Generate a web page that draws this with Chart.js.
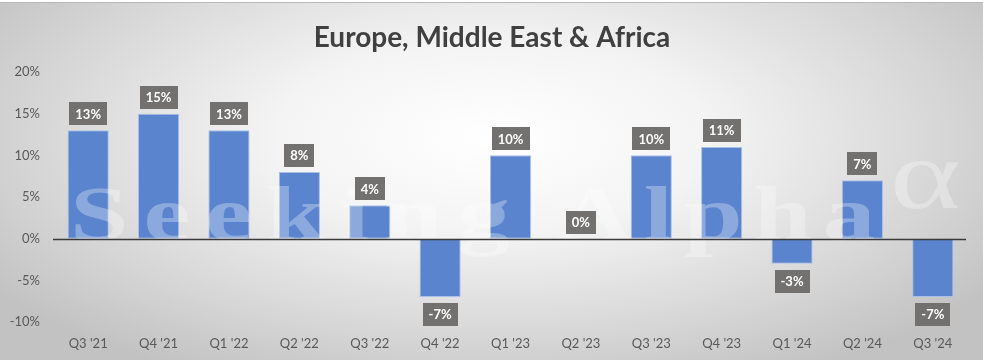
<!DOCTYPE html>
<html>
<head>
<meta charset="utf-8">
<script src="https://cdn.jsdelivr.net/npm/chart.js@4"></script>
<style>
  html, body { margin: 0; padding: 0; width: 983px; height: 360px; overflow: hidden; background: #fff; }
  #wrap { position: absolute; left: 0; top: 0; width: 983px; height: 360px;
    background: radial-gradient(ellipse 62% 75% at 50% 38%, #ffffff 0%, #f4f4f4 35%, #d6d6d6 75%, #c2c2c2 100%); }
  #strip { position: absolute; left: 0; top: 0; width: 983px; height: 2px; background: #fff; border-bottom: 1px solid #b8b8b8; z-index: 2; }
  canvas { position: absolute; left: 0; top: 0; }
</style>
</head>
<body>
<div id="wrap"><canvas id="c" width="983" height="360"></canvas></div>
<div id="strip"></div>
<script>
const TITLE = "Europe, Middle East & Africa";
const categories = ["Q3 '21", "Q4 '21", "Q1 '22", "Q2 '22", "Q3 '22", "Q4 '22", "Q1 '23", "Q2 '23", "Q3 '23", "Q4 '23", "Q1 '24", "Q2 '24", "Q3 '24"];
const growth = [13, 15, 13, 8, 4, -7, 10, 0, 10, 11, -3, 7, -7];
const yTicks = [-10, -5, 0, 5, 10, 15, 20];

const FONT = "Lato, 'Open Sans', sans-serif";

const titlePlugin = {
  id: 'titleDraw',
  afterDraw(chart) {
    const ctx = chart.ctx;
    ctx.save();
    ctx.font = "bold 28px " + FONT;
    ctx.fillStyle = "#404040";
    ctx.textAlign = "center";
    ctx.textBaseline = "middle";
    ctx.fillText(TITLE, chart.width / 2 + 0.5, 38);
    ctx.restore();
  }
};

const watermarkPlugin = {
  id: 'watermark',
  afterDatasetsDraw(chart) {
    const ctx = chart.ctx;
    ctx.save();
    ctx.fillStyle = "rgba(255,255,255,0.30)";
    ctx.font = "bold 78px 'Liberation Serif', 'DejaVu Serif', serif";
    ctx.textBaseline = "alphabetic";
    ctx.textAlign = "left";
    ctx.translate(70, 240);
    ctx.scale(1.35, 1);
    ctx.letterSpacing = "11px";
    ctx.fillText("Seeking", 0, 0);
    ctx.letterSpacing = "8px";
    ctx.fillText("Alpha", (557 - 70) / 1.35, 0);
    ctx.letterSpacing = "0px";
    ctx.font = "100px 'Liberation Serif', serif";
    ctx.fillText("\u03B1", (890 - 70) / 1.35, -32);
    ctx.restore();
  }
};

const zeroLinePlugin = {
  id: 'zeroLine',
  afterDatasetsDraw(chart) {
    const ctx = chart.ctx;
    const y = Math.round(chart.scales.y.getPixelForValue(0)) + 0.5;
    ctx.save();
    ctx.strokeStyle = "#3a3a3a";
    ctx.lineWidth = 1.6;
    ctx.beginPath();
    ctx.moveTo(chart.chartArea.left, y);
    ctx.lineTo(chart.chartArea.right - 2, y);
    ctx.stroke();
    ctx.restore();
  }
};

const labelPlugin = {
  id: 'dataLabels',
  afterDatasetsDraw(chart) {
    const ctx = chart.ctx;
    const meta = chart.getDatasetMeta(0);
    const data = chart.data.datasets[0].data;
    ctx.save();
    ctx.font = "bold 13px " + FONT;
    ctx.textAlign = "center";
    ctx.textBaseline = "middle";
    meta.data.forEach((bar, i) => {
      const v = data[i];
      const txt = v + "%";
      const w = ctx.measureText(txt).width + 12;
      const h = 23;
      let top;
      if (v >= 0) top = bar.y - 5 - h;
      else top = bar.y + 6;
      const left = bar.x - w / 2;
      ctx.fillStyle = "#737070";
      ctx.fillRect(Math.round(left), Math.round(top), Math.round(w), h);
      ctx.fillStyle = "#ffffff";
      ctx.fillText(txt, bar.x, top + h / 2 + 0.5);
    });
    ctx.restore();
  }
};

new Chart(document.getElementById('c'), {
  type: 'bar',
  data: {
    labels: categories,
    datasets: [{
      data: growth,
      backgroundColor: "#5b84cf",
      borderColor: "#a9c0e6",
      borderWidth: 1,
      borderSkipped: false,
      categoryPercentage: 1,
      barPercentage: 0.585
    }]
  },
  options: {
    responsive: false,
    animation: false,
    events: [],
    layout: { padding: { top: 72, right: 15, bottom: 0, left: 0 } },
    plugins: { legend: { display: false }, title: { display: false }, tooltip: { enabled: false } },
    scales: {
      x: {
        grid: { display: false, drawTicks: false },
        border: { display: false },
        ticks: { color: "#595959", font: { size: 13, family: FONT }, padding: 14, maxRotation: 0 },
        afterFit(s) { s.height = 38; }
      },
      y: {
        min: -10, max: 20,
        afterBuildTicks(s) { s.ticks = yTicks.map(v => ({ value: v })); },
        grid: { display: false, drawTicks: false },
        border: { display: false },
        ticks: { color: "#595959", font: { size: 13, family: FONT }, padding: 13, callback: v => v + "%" },
        afterFit(s) { s.width = 53; }
      }
    }
  },
  plugins: [watermarkPlugin, zeroLinePlugin, labelPlugin, titlePlugin]
});
</script>
</body>
</html>
